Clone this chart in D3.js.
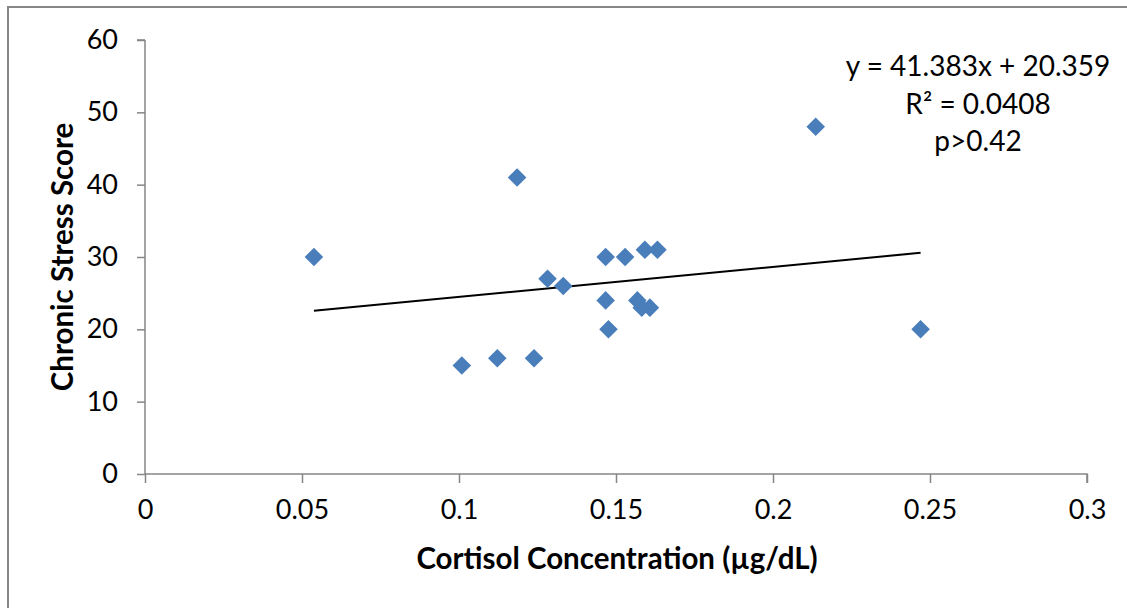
<!DOCTYPE html>
<html>
<head>
<meta charset="utf-8">
<script src="https://cdn.jsdelivr.net/npm/d3@7"></script>
<style>
  html, body { margin: 0; padding: 0; background: #fff; }
  svg text { font-family: Lato, "Open Sans", sans-serif; fill: #000; }
</style>
</head>
<body>
<svg id="chart" width="1127" height="608"></svg>
<script>
// Cortisol concentration (µg/dL) per participant
const cortisol = [0.0538, 0.1009, 0.1122, 0.1239, 0.1185, 0.1282, 0.1332, 0.1467, 0.1467,
                  0.1476, 0.1529, 0.1592, 0.1632, 0.1568, 0.1582, 0.1608, 0.2136, 0.2470];
// Chronic stress score per participant
const stress = [30, 15, 16, 16, 41, 27, 26, 30, 24,
                20, 30, 31, 31, 24, 23, 23, 48, 20];

// Linear trend line coefficients
const slope = 41.383;
const intercept = 20.359;
const annotation = ["y = 41.383x + 20.359", "R² = 0.0408", "p>0.42"];

const xTicks = [0, 0.05, 0.1, 0.15, 0.2, 0.25, 0.3];
const xTickLabels = ["0", "0.05", "0.1", "0.15", "0.2", "0.25", "0.3"];
const yTicks = [0, 10, 20, 30, 40, 50, 60];

const xTitle = "Cortisol Concentration (µg/dL)";
const yTitle = "Chronic Stress Score";

const svg = d3.select("#chart");

// chart frame
svg.append("rect")
  .attr("x", 8).attr("y", 7)
  .attr("width", 1140).attr("height", 620)
  .attr("fill", "none")
  .attr("stroke", "#868686")
  .attr("stroke-width", 2);

const x = d3.scaleLinear().domain([0, 0.3]).range([145, 1087]);
const y = d3.scaleLinear().domain([0, 60]).range([474, 40]);

const axisColor = "#868686";
const tickFont = 27;

// y axis
const yAxis = svg.append("g")
  .attr("transform", `translate(${x(0)},0)`)
  .call(d3.axisLeft(y).tickValues(yTicks).tickSize(8).tickPadding(19).tickFormat(d3.format("d")));
yAxis.select(".domain").attr("stroke", axisColor).attr("stroke-width", 1.5).attr("d", `M0,${y(60)}V${y(0)}M-8,${y(60)}H0`);
yAxis.selectAll(".tick line").attr("stroke", axisColor).attr("stroke-width", 1.5);
yAxis.selectAll(".tick text").attr("font-size", tickFont).attr("fill", "#000")
  .style("font-family", "Lato, 'Open Sans', sans-serif");

// x axis
const xAxis = svg.append("g")
  .attr("transform", `translate(0,${y(0)})`)
  .call(d3.axisBottom(x).tickValues(xTicks).tickSize(9).tickPadding(17)
    .tickFormat((d, i) => xTickLabels[i]));
xAxis.select(".domain").attr("stroke", axisColor).attr("stroke-width", 1.5).attr("d", `M${x(0)},0H${x(0.3)}V9`);
xAxis.selectAll(".tick line").attr("stroke", axisColor).attr("stroke-width", 1.5);
xAxis.selectAll(".tick text").attr("font-size", tickFont).attr("fill", "#000")
  .style("font-family", "Lato, 'Open Sans', sans-serif");

// trend line across the data range
const xMin = d3.min(cortisol), xMax = d3.max(cortisol);
svg.append("line")
  .attr("x1", x(xMin)).attr("y1", y(slope * xMin + intercept))
  .attr("x2", x(xMax)).attr("y2", y(slope * xMax + intercept))
  .attr("stroke", "#000").attr("stroke-width", 2);

// diamond markers
const diamond = d3.symbol().type(d3.symbolDiamond2).size(220);
svg.append("g").selectAll("path")
  .data(cortisol.map((c, i) => [c, stress[i]]))
  .join("path")
  .attr("transform", d => `translate(${x(d[0])},${y(d[1])})`)
  .attr("d", diamond)
  .attr("fill", "#4a7ebb");

// equation annotation
svg.append("g").selectAll("text")
  .data(annotation)
  .join("text")
  .attr("x", 978)
  .attr("y", (d, i) => 76 + i * 37.5)
  .attr("text-anchor", "middle")
  .attr("font-size", 28)
  .text(d => d);

// axis titles
svg.append("text")
  .attr("x", 617).attr("y", 569)
  .attr("text-anchor", "middle")
  .attr("font-size", 29.5).attr("font-weight", "bold")
  .text(xTitle);

svg.append("text")
  .attr("transform", "translate(73,257) rotate(-90)")
  .attr("text-anchor", "middle")
  .attr("font-size", 29.5).attr("font-weight", "bold")
  .text(yTitle);
</script>
</body>
</html>
